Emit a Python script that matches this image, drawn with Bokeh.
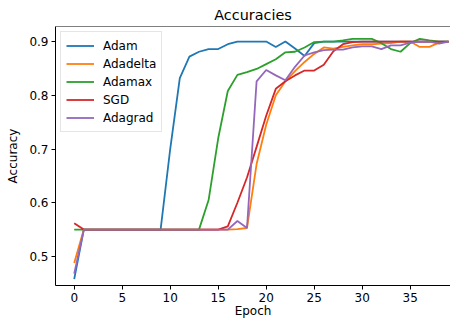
from bokeh.plotting import figure
from bokeh.models import Range1d, Legend, LegendItem, Span, FixedTicker
from bokeh.embed import file_html
from bokeh.resources import INLINE

epochs = list(range(40))
adam = [0.458, 0.55, 0.55, 0.55, 0.55, 0.55, 0.55, 0.55, 0.55, 0.55,
        0.70, 0.832, 0.872, 0.881, 0.886, 0.886, 0.895, 0.9, 0.9, 0.9,
        0.9, 0.89, 0.9, 0.887, 0.873, 0.897, 0.9, 0.9, 0.9, 0.9,
        0.9, 0.9, 0.9, 0.9, 0.9, 0.9, 0.9, 0.9, 0.9, 0.9]
adadelta = [0.488, 0.55, 0.55, 0.55, 0.55, 0.55, 0.55, 0.55, 0.55, 0.55,
            0.55, 0.55, 0.55, 0.55, 0.55, 0.55, 0.55, 0.551, 0.553, 0.672,
            0.745, 0.80, 0.826, 0.845, 0.862, 0.877, 0.889, 0.887, 0.89, 0.893,
            0.895, 0.895, 0.896, 0.897, 0.9, 0.9, 0.89, 0.89, 0.898, 0.9]
adamax = [0.55, 0.55, 0.55, 0.55, 0.55, 0.55, 0.55, 0.55, 0.55, 0.55,
          0.55, 0.55, 0.55, 0.55, 0.605, 0.72, 0.808, 0.838, 0.843, 0.849,
          0.858, 0.867, 0.88, 0.881, 0.889, 0.899, 0.9, 0.9, 0.902, 0.905,
          0.905, 0.905, 0.897, 0.886, 0.881, 0.897, 0.905, 0.902, 0.9, 0.9]
sgd = [0.562, 0.55, 0.55, 0.55, 0.55, 0.55, 0.55, 0.55, 0.55, 0.55,
       0.55, 0.55, 0.55, 0.55, 0.55, 0.55, 0.556, 0.60, 0.647, 0.704,
       0.762, 0.812, 0.826, 0.837, 0.846, 0.846, 0.857, 0.882, 0.895, 0.899,
       0.9, 0.9, 0.9, 0.9, 0.9, 0.9, 0.9, 0.9, 0.9, 0.9]
adagrad = [0.468, 0.55, 0.55, 0.55, 0.55, 0.55, 0.55, 0.55, 0.55, 0.55,
           0.55, 0.55, 0.55, 0.55, 0.55, 0.55, 0.55, 0.566, 0.553, 0.826,
           0.847, 0.837, 0.828, 0.853, 0.874, 0.88, 0.884, 0.885, 0.885, 0.889,
           0.891, 0.891, 0.886, 0.893, 0.893, 0.898, 0.9, 0.9, 0.896, 0.9]

names = ["Adam", "Adadelta", "Adamax", "SGD", "Adagrad"]
series = [adam, adadelta, adamax, sgd, adagrad]
colors = ["#1f77b4", "#ff7f0e", "#2ca02c", "#d62728", "#9467bd"]
x_ticks = [0, 5, 10, 15, 20, 25, 30, 35, 40]
y_ticks = [0.5, 0.6, 0.7, 0.8, 0.9]

FONT = "DejaVu Sans"
X0, X1 = -1.95, 39.2
Y0, Y1 = 0.446, 0.928

p = figure(width=450, height=320, output_backend="svg", toolbar_location=None,
           x_range=Range1d(X0, X1), y_range=Range1d(Y0, Y1),
           min_border_left=55, min_border_right=0, min_border_top=24,
           min_border_bottom=33, title="Accuracies",
           x_axis_label="Epoch", y_axis_label="Accuracy")
p.outline_line_color = None
p.background_fill_color = "white"
p.border_fill_color = "white"
p.xgrid.grid_line_color = None
p.ygrid.grid_line_color = None

p.title.align = "center"
p.title.offset = 12
p.title.text_font = FONT
p.title.text_font_size = "14.4px"
p.title.text_font_style = "normal"
p.title.text_color = "black"
p.title.standoff = 8

for ax in (p.xaxis[0], p.yaxis[0]):
    ax.axis_line_color = "black"
    ax.axis_line_width = 1
    ax.major_tick_line_color = "black"
    ax.major_tick_in = 0
    ax.major_tick_out = 4
    ax.minor_tick_line_color = None
    ax.major_label_text_font = FONT
    ax.major_label_text_font_size = "12px"
    ax.major_label_text_color = "black"
    ax.major_label_standoff = 3
    ax.axis_label_text_font = FONT
    ax.axis_label_text_font_size = "12px"
    ax.axis_label_text_font_style = "normal"
    ax.axis_label_text_color = "black"

p.xaxis[0].ticker = FixedTicker(ticks=x_ticks)
p.yaxis[0].ticker = FixedTicker(ticks=y_ticks)
p.xaxis[0].axis_label_standoff = -1
p.yaxis[0].axis_label_standoff = 6

p.add_layout(Span(location=Y1, dimension="width", line_color="black", line_width=1))

items = []
for name, ys, c in zip(names, series, colors):
    r = p.line(epochs, ys, line_color=c, line_width=1.8)
    items.append(LegendItem(label=name, renderers=[r]))

legend = Legend(items=items, location="top_left", margin=5, padding=5, spacing=1,
                label_height=17, glyph_height=17, glyph_width=28, label_standoff=9,
                label_text_font=FONT, label_text_font_size="12px", label_text_color="black",
                border_line_color="#cccccc", border_line_width=1,
                background_fill_color="white", background_fill_alpha=0.8)
p.add_layout(legend)

open("out.html", "w").write(file_html(p, INLINE))
